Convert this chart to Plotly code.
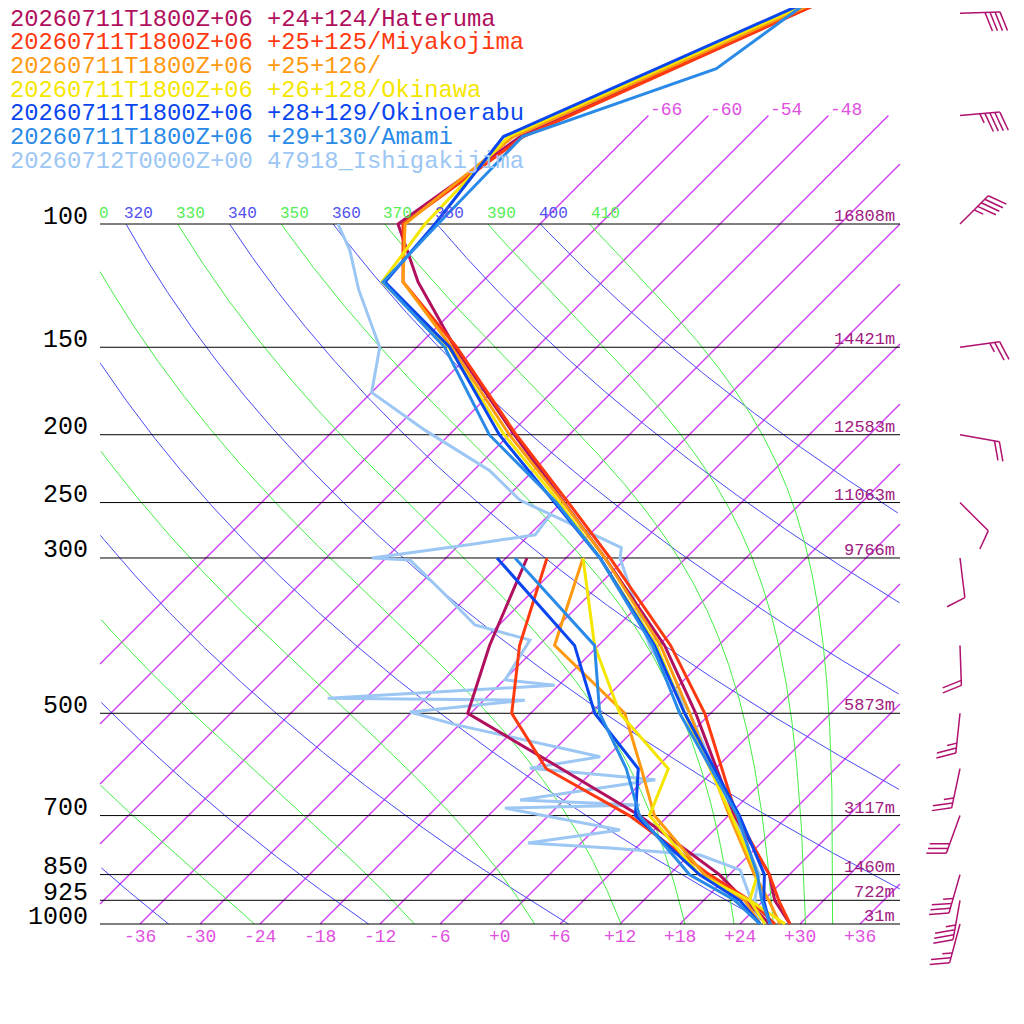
import numpy as np
import plotly.graph_objects as go

# ---------------- data ----------------
station_names = ["20260711T1800Z+06 +24+124/Hateruma",
                 "20260711T1800Z+06 +25+125/Miyakojima",
                 "20260711T1800Z+06 +25+126/",
                 "20260711T1800Z+06 +26+128/Okinawa",
                 "20260711T1800Z+06 +28+129/Okinoerabu",
                 "20260711T1800Z+06 +29+130/Amami",
                 "20260712T0000Z+00 47918_Ishigakijima"]
station_colors = ["#b0105e", "#ff3a10", "#ff9a10", "#f5e600", "#0a46f0", "#2a8ae8", "#9cc6f4"]

temp_p = [1000, 925, 850, 700, 500, 400, 300, 250, 200, 150, 121, 100, 75, 48]
temp_hateruma = [29, 25.1, 22.0, 12.6, -1.5, -11.4, -26.1, -35.7, -47.5, -62.2, -72.4, -80.2, -76.7, -59.9]
temp_miyakojima = [29, 25.5, 22.0, 12.8, -0.6, -10.8, -25.6, -35.3, -47.3, -62.0, -73.9, -79.7, -76.4, -59.9]
temp_unnamed = [28, 24.5, 20.5, 12.1, -2.1, -11.8, -26.1, -35.8, -48.0, -62.5, -73.9, -79.5, -77.4, -60.4]
temp_okinawa = [28.5, 22.6, 20.8, 12.3, -2.6, -12.2, -26.6, -36.2, -48.5, -62.8, -76.0, -77.5, -77.9, -60.9]
temp_okinoerabu = [27, 24.0, 21.5, 13.1, -2.6, -12.4, -26.6, -36.7, -49.0, -62.7, -75.7, -76.5, -78.4, -61.4]
amami_p = [1000, 925, 850, 700, 500, 400, 300, 250, 200, 150, 121, 100, 75, 60, 48]
temp_amami = [27, 23.8, 20.8, 12.9, -3.1, -12.6, -26.6, -36.5, -50.0, -63.2, -75.9, -76.2, -76.5, -63.9, -61.4]

dew_p = [1000, 925, 850, 700, 600, 500, 400, 300]
dew_hateruma = [27, 22.1, 17, 3.1, -9.4, -24.3, -28.9, -33.9]
dew_miyakojima = [27.5, 22.6, 16, 2.1, -10.9, -19.9, -25.9, -31.9]
dew_unnamed = [26, 22.1, 15.5, 4.6, -1.4, -8.6, -22.4, -28.3]
dew_okinawa = [26.5, 22.6, 15, 4.1, 1.3, -9.1, -18.4, -28.3]
dew_okinoerabu = [26, 21.6, 15, 2.7, -1.7, -11.6, -20.4, -36.9]
dew_amami = [26, 21.1, 14, 3.1, -2.9, -11.1, -18.4, -35.1]

ishi_temp_p = [1000, 925, 850, 700, 500, 400, 300, 290, 260, 248, 225, 197, 174, 150, 124, 109, 100]
ishi_temp = [26.5, 23.1, 21.0, 12.6, -2.1, -12.9, -24.6, -25.5, -35.9, -40.4, -46.4, -56.9, -66.0, -69.7, -77.6, -82.4, -86.2]
ishi_dew_p = [1000, 837, 797, 779, 766, 734, 683, 676, 665, 622, 599, 577, 519, 498, 479, 476, 456, 448, 393, 374, 333, 302, 300, 287, 278, 260]
ishi_dew = [26, 18.6, 13.1, 3.4, -5.3, 2.6, -11.1, 2.1, -10.4, 1.1, -12.6, -6.7, -24.4, -30.2, -19.9, -39.8, -18.4, -23.9, -25.4, -32.4, -39.4, -45.4, -49.4, -40.9, -35.4, -35.9]

pressure_levels = [100, 150, 200, 250, 300, 500, 700, 850, 925, 1000]
heights = ["16808m", "14421m", "12583m", "11063m", "9766m", "5873m", "3117m", "1460m", "722m", "31m"]
temp_ticks = [-36, -30, -24, -18, -12, -6, 0, 6, 12, 18, 24, 30, 36]
isotherm_values = list(range(-66, 40, 6))
isotherm_labels = [-66, -60, -54, -48]
theta_dry = list(range(200, 420, 20))       # blue dry adiabats
theta_e = list(range(230, 420, 20))         # green pseudo-adiabats
theta_labels = [310, 320, 330, 340, 350, 360, 370, 380, 390, 400, 410]

wind_p = [50, 70, 100, 150, 200, 250, 300, 400, 500, 600, 700, 850, 925, 1000]
wind_dir = [88, 85, 45, 82, 100, 135, 173, 178, 186, 192, 200, 196, 190, 195]
wind_spd = [40, 45, 45, 25, 20, 10, 10, 20, 25, 25, 30, 35, 35, 25]

# ---------------- geometry helpers ----------------
SKEW = 70.0
def X(T, p):
    return np.asarray(T, float) + SKEW * np.log10(1000.0 / np.asarray(p, float))
def Y(p):
    return np.log10(np.asarray(p, float))

fig = go.Figure()
FONT = "Liberation Mono"

def add_line(xs, ys, color, width, clipx=(-40, 40)):
    xs = np.array(xs, float); ys = np.array(ys, float)
    m = (xs < clipx[0]) | (xs > clipx[1])
    xs = [None if mm else float(v) for v, mm in zip(xs, m)]
    ys = [None if mm else float(v) for v, mm in zip(ys, m)]
    fig.add_trace(go.Scatter(x=xs, y=ys, mode="lines", line=dict(color=color, width=width),
                             hoverinfo="skip", showlegend=False, connectgaps=False))

# isotherms (straight in skew-T space), clipped to the chart box, one trace with gaps
LMAX = np.log10(1000.0 / 70.0)
iso_x, iso_y = [], []
for T in isotherm_values:
    l0 = max(0.0, (-40.0 - T) / SKEW)
    l1 = min(LMAX, (40.0 - T) / SKEW)
    if l1 > l0:
        iso_x += [T + SKEW * l0, T + SKEW * l1, None]
        iso_y += [3 - l0, 3 - l1, None]
fig.add_trace(go.Scatter(x=iso_x, y=iso_y, mode="lines", line=dict(color="#d23cf0", width=1.4),
                         hoverinfo="skip", showlegend=False))

# dry adiabats
ps2 = np.logspace(np.log10(1000), np.log10(100), 500)
for th in theta_dry:
    T = th * (ps2 / 1000.0) ** 0.2857 - 273.15
    add_line(X(T, ps2), Y(ps2), "rgb(74,74,245)", 1.0)

# pseudo-adiabats (saturated theta-e)
def theta_e_sat(Tk, p):
    tc = Tk - 273.15
    es = 6.112 * np.exp(17.67 * tc / (tc + 243.5))
    r = 0.622 * es / (p - es)
    return Tk * (1000.0 / p) ** 0.2857 * np.exp(2.675e6 * r / (1004.0 * Tk))

for te in theta_e:
    lo = np.full_like(ps2, 150.0); hi = np.full_like(ps2, 330.0)
    for _ in range(60):
        mid = 0.5 * (lo + hi)
        f = theta_e_sat(mid, ps2) > te
        hi = np.where(f, mid, hi); lo = np.where(f, lo, mid)
    add_line(X(0.5 * (lo + hi) - 273.15, ps2), Y(ps2), "rgb(68,238,68)", 1.0)

# pressure lines
for p in pressure_levels:
    fig.add_trace(go.Scatter(x=[-40, 40], y=[float(Y(p))] * 2, mode="lines",
                             line=dict(color="black", width=1), hoverinfo="skip", showlegend=False))

# data lines
temps = [(temp_p, temp_hateruma), (temp_p, temp_miyakojima), (temp_p, temp_unnamed),
         (temp_p, temp_okinawa), (temp_p, temp_okinoerabu), (amami_p, temp_amami)]
dews = [dew_hateruma, dew_miyakojima, dew_unnamed, dew_okinawa, dew_okinoerabu, dew_amami]
fig.add_trace(go.Scatter(x=X(ishi_dew, ishi_dew_p), y=Y(ishi_dew_p), mode="lines",
                         line=dict(color=station_colors[6], width=3), showlegend=False))
fig.add_trace(go.Scatter(x=X(ishi_temp, ishi_temp_p), y=Y(ishi_temp_p), mode="lines",
                         line=dict(color=station_colors[6], width=3), showlegend=False))
for i in range(6):
    pp, tt = temps[i]
    fig.add_trace(go.Scatter(x=X(tt, pp), y=Y(pp), mode="lines",
                             line=dict(color=station_colors[i], width=3), showlegend=False))
    fig.add_trace(go.Scatter(x=X(dews[i], dew_p), y=Y(dew_p), mode="lines",
                             line=dict(color=station_colors[i], width=3), showlegend=False))

# wind barbs
BX = 46.0
bx_all, by_all = [], []
for p, dr, sp in zip(wind_p, wind_dir, wind_spd):
    a = np.radians(dr)
    ux, uy = np.sin(a), np.cos(a)
    L = 40
    segs = [[(0.0, 0.0), (ux * L, uy * L)]]
    b = np.radians(dr + 70)
    bux, buy = np.sin(b), np.cos(b)
    full, half = int(sp // 10), int((sp % 10) // 5)
    pos = L
    for k in range(full):
        sx, sy = ux * pos, uy * pos
        segs.append([(sx, sy), (sx + bux * 20, sy + buy * 20)])
        pos -= 5
    for k in range(half):
        if full == 0:
            pos -= 5
        sx, sy = ux * pos, uy * pos
        segs.append([(sx, sy), (sx + bux * 10, sy + buy * 10)])
    for s in segs:
        for (px, py) in s:
            bx_all.append(BX + px / 10.0)
            by_all.append(float(Y(p)) - py / 700.0)
        bx_all.append(None); by_all.append(None)
fig.add_trace(go.Scatter(x=bx_all, y=by_all, mode="lines", line=dict(color="#b0106e", width=1.5),
                         hoverinfo="skip", showlegend=False))

ann = []
for p, h in zip(pressure_levels, heights):
    ann.append(dict(x=-41.0, y=float(Y(p)), text=str(p), xanchor="right", yanchor="middle",
                    font=dict(family=FONT, size=25, color="black"), yshift=7))
    ann.append(dict(x=39.7, y=float(Y(p)), text=h, xanchor="right", yanchor="bottom",
                    font=dict(family=FONT, size=17, color="#a02080"), yshift=-4))
for t in temp_ticks:
    ann.append(dict(x=t, y=float(Y(1000)), text=("+%d" % t) if t >= 0 else str(t), xanchor="center",
                    yanchor="top", font=dict(family=FONT, size=18, color="#e050e0"), yshift=-1))
for t in isotherm_labels:
    pl = 1000 * 10 ** (-(924 - 110) / 700.0)
    ann.append(dict(x=float(X(t, pl)) + 1.2, y=float(Y(pl)), text=str(t), xanchor="center",
                    yanchor="middle", font=dict(family=FONT, size=18, color="#e050e0")))
for th in theta_labels:
    T = th * 0.1 ** 0.2857 - 273.15
    xx = float(X(T, 100)) + 1.3
    col = "#5050f0" if (th // 10) % 2 == 0 else "#55ee55"
    txt = str(th)
    if xx < -38:
        txt = "0"; xx = -39.6
    ann.append(dict(x=xx, y=float(Y(100)), text=txt, xanchor="center", yanchor="bottom",
                    font=dict(family=FONT, size=16, color=col), yshift=-1))
for i, (nm, c) in enumerate(zip(station_names, station_colors)):
    ann.append(dict(x=-49.2, y=3.0 - (924 - (19 + 23.7 * i)) / 700.0, text=nm,
                    xanchor="left", yanchor="middle", font=dict(family=FONT, size=23.8, color=c)))
for a_ in ann:
    a_["showarrow"] = False
    a_["xref"] = "x"; a_["yref"] = "y"

fig.update_layout(width=1016, height=1016, autosize=False, margin=dict(l=0, r=0, t=0, b=0),
                  paper_bgcolor="white", plot_bgcolor="white", annotations=ann,
                  xaxis=dict(range=[(8 - 500) / 10.0, (1024 - 500) / 10.0], visible=False, fixedrange=True),
                  yaxis=dict(range=[3 + 100 / 700.0, 2 - (224 - 8) / 700.0], visible=False, fixedrange=True))
fig.write_html("out.html")
